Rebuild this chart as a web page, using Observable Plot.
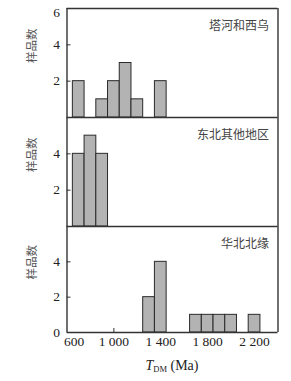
<!DOCTYPE html>
<html><head><meta charset="utf-8">
<script src="https://cdn.jsdelivr.net/npm/d3@7"></script>
<script src="https://cdn.jsdelivr.net/npm/@observablehq/plot@0.6"></script>
<style>
body{margin:0;background:#fff;}
#chart{width:291px;height:381px;position:relative;}
#chart svg{display:block;overflow:visible;}
</style></head><body><div id="chart"></div>
<script>
const regions = ["塔河和西乌", "东北其他地区", "华北北缘"];
const ages1 = [700, 900, 1000, 1100, 1200, 1400];
const counts1 = [2, 1, 2, 3, 1, 2];
const ages2 = [700, 800, 900];
const counts2 = [4, 5, 4];
const ages3 = [1300, 1400, 1700, 1800, 1900, 2000, 2200];
const counts3 = [2, 4, 1, 1, 1, 1, 1];
const yTicks1 = [2, 4, 6];
const yTicks2 = [2, 4];
const yTicks3 = [0, 2, 4];
const xTicks = [600, 1000, 1400, 1800, 2200];
const xTickLabels = ["600", "1 000", "1 400", "1 800", "2 200"];
const yTitle = "样品数";
const binWidth = 100;
const xDomain = [600, 2400];
const yDomain = [0, 6];

const serif = "'Liberation Serif', 'DejaVu Serif', serif";
const cjk = "'Noto Sans CJK SC', sans-serif";
const W = 291, ML = 66.5, MR = 13.5;

function panel({ages, counts, yTicks, label, height, marginTop, marginBottom, drawTop, xAxis}) {
  const data = ages.map((a, i) => ({age: a, n: counts[i]}));
  const inner = height - marginTop - marginBottom;
  const innerW = W - ML - MR;
  const marks = [
    Plot.tickY(yTicks.filter(v => v > yDomain[0] && v < yDomain[1]), {y: d => d, stroke: "#333", strokeWidth: 1, insetRight: innerW - 4}),
  ];
  if (xAxis) {
    marks.push(Plot.tickX(xTicks.slice(1), {x: d => d, stroke: "#333", strokeWidth: 1, insetTop: inner - 4}));
  }
  marks.push(
    Plot.rectY(data, {x1: d => d.age - binWidth / 2, x2: d => d.age + binWidth / 2, y: "n", fill: "#b3b3b3", stroke: "#2a2a2a", strokeWidth: 1}),
    Plot.ruleX(xDomain, {stroke: "#333", strokeWidth: 1.4}),
    Plot.ruleY([yDomain[0]], {stroke: "#333", strokeWidth: 1.4})
  );
  if (drawTop) marks.push(Plot.ruleY([yDomain[1]], {stroke: "#333", strokeWidth: 1.4}));
  marks.push(
    Plot.text(yTicks.filter(v => v < yDomain[1]), {y: d => d, text: d => String(d), frameAnchor: "left", dx: -7, textAnchor: "end", fontSize: 13.5, fontFamily: serif, fill: "#222"}),
    Plot.text(yTicks.filter(v => v === yDomain[1]), {y: d => d, text: d => String(d), frameAnchor: "left", dx: -7, dy: 4, textAnchor: "end", fontSize: 13.5, fontFamily: serif, fill: "#222"}),
    Plot.text([label], {frameAnchor: "top-right", dx: -9, dy: 13, textAnchor: "end", fontSize: 12, fontFamily: cjk, fill: "#444"}),
    Plot.text([yTitle], {frameAnchor: "left", dx: -35, rotate: -90, fontSize: 11.5, fontFamily: cjk, fill: "#555", letterSpacing: 1})
  );
  if (xAxis) {
    const xt = xTicks.map((v, i) => ({v, s: xTickLabels[i]}));
    marks.push(
      Plot.text(xt.slice(0, 1), {x: "v", text: "s", frameAnchor: "bottom", dy: 13, dx: -3, textAnchor: "start", fontSize: 13.5, fontFamily: serif, fill: "#222"}),
      Plot.text(xt.slice(1), {x: "v", text: "s", frameAnchor: "bottom", dy: 13, fontSize: 13.5, fontFamily: serif, fill: "#222"})
    );
  }
  return Plot.plot({
    width: W, height, marginLeft: ML, marginRight: MR, marginTop, marginBottom,
    x: {domain: xDomain, axis: null},
    y: {domain: yDomain, axis: null},
    style: {overflow: "visible", background: "transparent"},
    marks
  });
}

const chart = document.getElementById("chart");
chart.append(panel({ages: ages1, counts: counts1, yTicks: yTicks1, label: regions[0], height: 117, marginTop: 8, marginBottom: 0, drawTop: true, xAxis: false}));
chart.append(panel({ages: ages2, counts: counts2, yTicks: yTicks2, label: regions[1], height: 109, marginTop: 0, marginBottom: 0, drawTop: false, xAxis: false}));
const p3 = panel({ages: ages3, counts: counts3, yTicks: yTicks3, label: regions[2], height: 155, marginTop: 0, marginBottom: 49, drawTop: false, xAxis: true});
chart.append(p3);

// x-axis title with italic T and subscript DM
const cx = (ML + W - MR) / 2;
const t = d3.select(p3).append("text")
  .attr("x", cx).attr("y", 144)
  .attr("text-anchor", "middle")
  .attr("font-family", serif).attr("font-size", 14).attr("fill", "#222");
t.append("tspan").attr("font-style", "italic").text("T");
t.append("tspan").attr("font-size", 8.5).attr("dy", 2).text("DM");
t.append("tspan").attr("dy", -2).text(" (Ma)");
</script>
</body></html>
